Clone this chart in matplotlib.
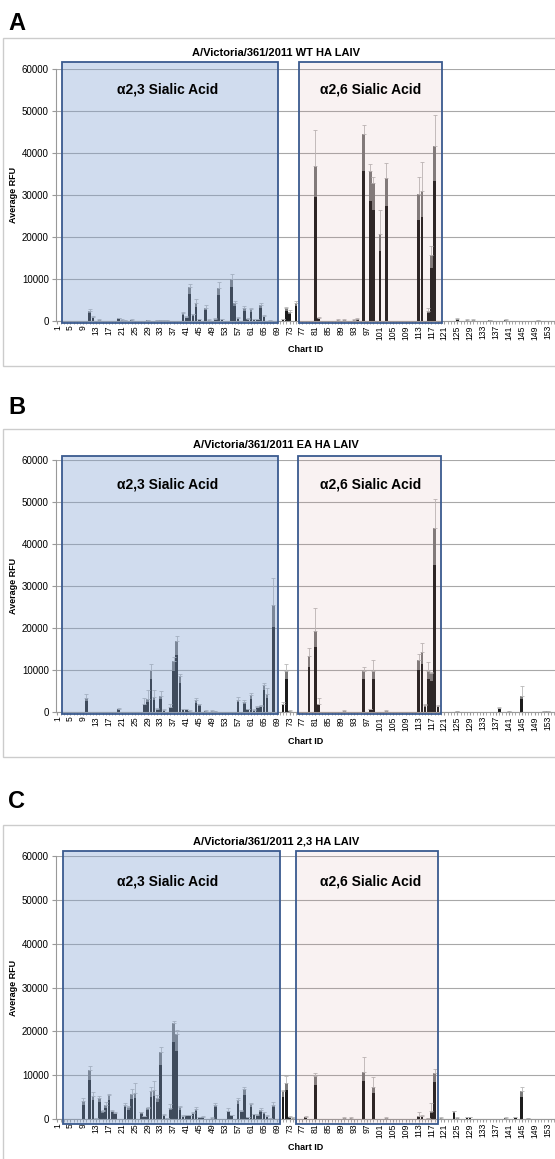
import matplotlib
matplotlib.use("Agg")
import matplotlib.pyplot as plt
import matplotlib.transforms as mtransforms
from matplotlib.patches import Rectangle
import numpy as np

plt.rcParams['font.family'] = ['Liberation Sans', 'DejaVu Sans']

# ====================== data ======================
wt_ids = [11, 12, 14, 20, 21, 22, 24, 29, 32, 33, 34, 35, 40, 41, 42, 43, 44, 45, 47, 48,
          50, 51, 52, 55, 56, 57, 59, 60, 61, 62, 63, 64, 65, 67, 71, 72, 73, 75, 81, 82,
          88, 90, 93, 94, 96, 98, 99, 101, 103, 113, 114, 116, 117, 118, 125, 128, 130, 135, 140, 150]
wt_vals = [2300, 1000, 300, 700, 300, 200, 300, 200, 200, 200, 200, 200, 1800, 1000, 8000, 1600, 4300, 400, 3200, 300,
           500, 7800, 400, 10000, 4400, 800, 3100, 500, 2800, 400, 400, 3800, 1200, 200, 400, 3000, 2100, 4400, 37000, 800,
           300, 300, 300, 500, 44600, 35600, 32900, 20800, 34100, 30200, 31000, 2400, 15800, 41600, 500, 300, 300, 200, 300, 200]
wt_errs = [600, 200, 100, 100, 100, 100, 100, 100, 100, 100, 100, 100, 300, 100, 800, 100, 1000, 100, 700, 100,
           100, 1400, 100, 1200, 300, 100, 500, 100, 300, 100, 100, 600, 200, 100, 100, 300, 600, 300, 8400, 200,
           100, 100, 100, 100, 2100, 1800, 1300, 5600, 3500, 4000, 6900, 600, 2000, 7400, 100, 100, 100, 100, 100, 100]

ea_ids = [10, 20, 28, 29, 30, 31, 32, 33, 34, 36, 37, 38, 39, 40, 41, 42, 44, 45, 47, 49,
          50, 57, 59, 60, 61, 62, 63, 64, 65, 66, 68, 71, 72, 73, 79, 81, 82, 90, 96, 98,
          99, 103, 113, 114, 115, 116, 117, 118, 119, 125, 138, 141, 145, 152, 153]
ea_vals = [3400, 800, 2000, 3100, 9900, 3600, 800, 3800, 500, 1300, 12200, 17000, 8500, 700, 700, 300, 2800, 1800, 300, 300,
           200, 2900, 2500, 600, 4000, 500, 1300, 1400, 6500, 4200, 25400, 2000, 9800, 300, 13400, 19400, 2000, 300, 9800, 600,
           9800, 300, 12400, 14300, 1600, 9800, 9200, 43700, 1400, 200, 1000, 200, 3800, 200, 200]
ea_errs = [800, 200, 1400, 2100, 1600, 1600, 100, 1100, 100, 500, 900, 1100, 600, 100, 100, 100, 600, 200, 100, 100,
           100, 600, 300, 100, 500, 100, 200, 200, 300, 1400, 6600, 300, 1600, 100, 1800, 5300, 1300, 100, 800, 100,
           2600, 100, 1400, 2200, 400, 2000, 400, 7100, 200, 100, 300, 100, 2300, 100, 100]

m23_ids = [9, 11, 12, 13, 14, 15, 16, 17, 18, 19, 22, 23, 24, 25, 27, 28, 29, 30, 31, 32,
           33, 34, 35, 36, 37, 38, 39, 40, 41, 42, 43, 44, 45, 46, 49, 50, 54, 55, 57, 58,
           59, 60, 61, 62, 63, 64, 65, 66, 67, 68, 71, 72, 73, 74, 78, 81, 90, 92, 96, 99,
           103, 113, 114, 116, 117, 118, 120, 124, 125, 128, 129, 140, 143, 145, 147]
m23_vals = [4000, 11200, 5300, 200, 4900, 1800, 3100, 5400, 1900, 1400, 3300, 2700, 5700, 5900, 1500, 600, 2500, 6300, 6600, 4800,
            15300, 1000, 200, 2500, 21900, 19500, 2700, 700, 900, 900, 1400, 2300, 400, 500, 300, 3300, 1900, 800, 4300, 1900,
            6900, 400, 3400, 1100, 1000, 2100, 1500, 700, 200, 3300, 6400, 8200, 500, 300, 500, 9700, 300, 300, 10800, 7300,
            300, 700, 700, 200, 1800, 10600, 300, 1800, 300, 400, 400, 300, 400, 6400, 200]
m23_errs = [800, 800, 800, 100, 300, 300, 700, 300, 200, 200, 300, 200, 1200, 2300, 200, 100, 200, 1100, 2000, 700,
            1100, 200, 100, 900, 400, 700, 300, 100, 100, 100, 200, 400, 100, 100, 100, 300, 700, 100, 500, 200,
            500, 100, 300, 100, 100, 400, 200, 100, 100, 500, 300, 1500, 100, 100, 200, 900, 100, 100, 3300, 2200,
            100, 800, 200, 100, 1800, 900, 100, 100, 100, 100, 100, 100, 100, 800, 100]

titles = ["A/Victoria/361/2011 WT HA LAIV",
          "A/Victoria/361/2011 EA HA LAIV",
          "A/Victoria/361/2011 2,3 HA LAIV"]
letters = ["A", "B", "C"]
y_ticks = [0, 10000, 20000, 30000, 40000, 50000, 60000]
x_tick_ids = list(range(1, 154, 4))

# ====================== layout (pixels) ======================
W, H = 555, 1159
fig = plt.figure(figsize=(W / 100, H / 100), dpi=100)

def fx(px):
    return px / W

def fy(py):
    return 1 - py / H

layout = [
    dict(letter=24, btop=38, bbot=366, title=53, top=69, bot=321, lab=89, xlab=349,
         b23=(2.4, 69.4), b26=(76.0, 120.2), by=(-0.008, 1.028)),
    dict(letter=408, btop=429, bbot=757, title=445, top=460, bot=712, lab=485, xlab=741,
         b23=(2.4, 69.3), b26=(75.7, 120.1), by=(-0.008, 1.016)),
    dict(letter=801, btop=825, bbot=1165, title=842, top=856, bot=1119, lab=882, xlab=1148,
         b23=(2.8, 69.9), b26=(75.0, 119.1), by=(-0.019, 1.019)),
]

series = [(wt_ids, wt_vals, wt_errs), (ea_ids, ea_vals, ea_errs), (m23_ids, m23_vals, m23_errs)]

ax_left, ax_right = 55.8, 555
for i in range(3):
    L = layout[i]
    ids, vals, errs = series[i]
    vals = np.array(vals, dtype=float)
    errs = np.array(errs, dtype=float)

    # 面板外框
    fig.patches.append(Rectangle((fx(3), fy(L['bbot'])), fx(556) - fx(3), fy(L['btop']) - fy(L['bbot']),
                                 transform=fig.transFigure, fill=False, edgecolor='#cccccc', lw=1.0))
    fig.text(fx(8), fy(L['letter']), letters[i], fontsize=17, fontweight='bold', va='center', ha='left')
    fig.text(fx(276), fy(L['title']), titles[i], fontsize=8, fontweight='bold', va='center', ha='center')

    ax = fig.add_axes([fx(ax_left), fy(L['bot']), fx(ax_right) - fx(ax_left), fy(L['top']) - fy(L['bot'])])
    ax.set_xlim(0.5, 155.3)
    ax.set_ylim(0, 60000)

    ax.bar(ids, vals, width=0.8, color='#7a7a7a', zorder=2)
    ax.bar(ids, vals * 0.8, width=0.8, color='#1c1c1c', zorder=2.1)
    ax.errorbar(ids, vals, yerr=[np.zeros_like(errs), errs], fmt='none', ecolor='#b8b8b8',
                elinewidth=0.6, capsize=1.2, capthick=0.6, zorder=2.2)

    ax.set_yticks(y_ticks)
    ax.set_yticklabels([str(v) for v in y_ticks], fontsize=7)
    ax.set_xticks(x_tick_ids)
    ax.set_xticklabels([str(v) for v in x_tick_ids], fontsize=6.2, rotation=90)
    ax.set_xticks(range(1, 156), minor=True)
    ax.tick_params(axis='x', which='both', length=2, color='#999999', pad=1)
    ax.tick_params(axis='y', length=3, color='#999999', pad=2)
    ax.yaxis.grid(True, color='#a8a8a8', lw=0.8)
    ax.set_axisbelow(True)
    for s in ['top', 'right']:
        ax.spines[s].set_visible(False)
    ax.spines['left'].set_color('#999999')
    ax.spines['bottom'].set_color('#999999')

    ax.set_ylabel("Average RFU", fontsize=6.5, fontweight='bold', labelpad=3)
    fig.text(fx(306), fy(L['xlab']), "Chart ID", fontsize=6.5, fontweight='bold', ha='center', va='center')

    # 唾液酸区域（半透明覆盖）
    trans = mtransforms.blended_transform_factory(ax.transData, ax.transAxes)
    y0, y1 = L['by']
    for (x0, x1), fc, a in [(L['b23'], '#7fa0d0', 0.36), (L['b26'], '#cd8282', 0.1)]:
        ax.add_patch(Rectangle((x0, y0), x1 - x0, y1 - y0, transform=trans, facecolor=fc, alpha=a,
                               edgecolor='none', clip_on=False, zorder=3))
        ax.add_patch(Rectangle((x0, y0), x1 - x0, y1 - y0, transform=trans, fill=False,
                               edgecolor='#3a5a8f', lw=1.3, clip_on=False, zorder=3.1))
    fig.text(fx(168), fy(L['lab']), "α2,3 Sialic Acid", fontsize=10, fontweight='bold', ha='center', va='center')
    fig.text(fx(371), fy(L['lab']), "α2,6 Sialic Acid", fontsize=10, fontweight='bold', ha='center', va='center')

fig.savefig("out.png", dpi=100)
